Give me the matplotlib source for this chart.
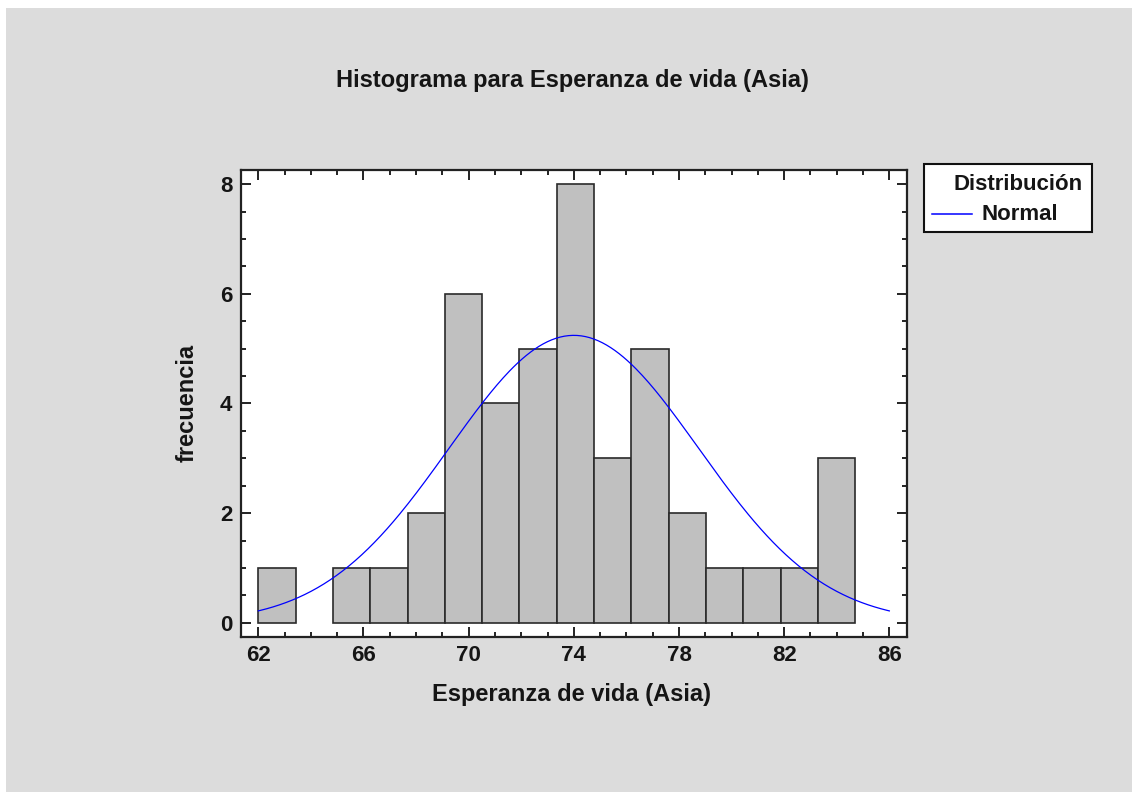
import numpy as np
import matplotlib
matplotlib.use("Agg")
import matplotlib.pyplot as plt
from matplotlib.patches import Rectangle
from matplotlib.lines import Line2D
from matplotlib.ticker import MultipleLocator

# ---- data ----
bin_start = 62.0
bin_end = 84.7
counts = [1, 0, 1, 1, 2, 6, 4, 5, 8, 3, 5, 2, 1, 1, 1, 3]
fit_mean = 74.0
fit_sd = 4.75
curve_range = [62.0, 86.0]
x_ticks = [62, 66, 70, 74, 78, 82, 86]
y_ticks = [0, 2, 4, 6, 8]

title = "Histograma para Esperanza de vida (Asia)"
xlabel = "Esperanza de vida (Asia)"
ylabel = "frecuencia"
legend_title = "Distribución"
legend_label = "Normal"

FONT = ["Liberation Sans Narrow", "Liberation Sans", "DejaVu Sans"]
plt.rcParams["font.family"] = FONT
plt.rcParams["font.weight"] = "bold"
TXT = "#151515"

W, H = 1132, 792
fig = plt.figure(figsize=(W / 100, H / 100), dpi=100)
fig.patch.set_facecolor("white")
fig.add_artist(Rectangle((6 / W, 0), 1 - 6 / W, 1 - 8 / H, transform=fig.transFigure,
                         facecolor="#dcdcdc", edgecolor="none", zorder=-10))

def fx(px):
    return px / W

def fy(py):
    return 1 - py / H

ax = fig.add_axes([fx(240.7), fy(636.7), (906.7 - 240.7) / W, (636.7 - 170) / H])
ax.set_facecolor("white")

nb = len(counts)
edges = np.linspace(bin_start, bin_end, nb + 1)
bw = edges[1] - edges[0]
for left, c in zip(edges[:-1], counts):
    if c > 0:
        ax.bar(left, c, width=bw, align="edge", color="#c0c0c0",
               edgecolor="#2a2a2a", linewidth=1.2, zorder=2)

n = sum(counts)
xs = np.linspace(curve_range[0], curve_range[1], 300)
ys = n * bw / (fit_sd * np.sqrt(2 * np.pi)) * np.exp(-0.5 * ((xs - fit_mean) / fit_sd) ** 2)
line, = ax.plot(xs, ys, color="#0000ff", linewidth=0.9, zorder=3)

ax.set_xlim(61.33, 86.66)
ax.set_ylim(-0.255, 8.26)
ax.set_xticks(x_ticks)
ax.set_yticks(y_ticks)
ax.xaxis.set_minor_locator(MultipleLocator(1))
ax.yaxis.set_minor_locator(MultipleLocator(0.5))
ax.tick_params(which="both", direction="in", top=True, right=True, width=1.4, color="#222222",
               labelcolor=TXT)
ax.tick_params(which="major", length=7.5, labelsize=16, pad=6)
ax.tick_params(which="minor", length=3.5)
for lab in ax.get_xticklabels() + ax.get_yticklabels():
    lab.set_fontweight("bold")
for s in ax.spines.values():
    s.set_linewidth(1.6)
    s.set_color("#222222")

fig.text(fx(572), fy(80), title, ha="center", va="center", fontsize=17, fontweight="bold", color=TXT)
fig.text(fx(572), fy(695), xlabel, ha="center", va="center", fontsize=17, fontweight="bold", color=TXT)
fig.text(fx(187), fy(403), ylabel, ha="center", va="center", rotation=90, fontsize=17,
         fontweight="bold", color=TXT)

# legend box drawn by hand to match the original placement
fig.add_artist(Rectangle((fx(924), fy(232)), (1092 - 924) / W, (232 - 164) / H,
                         transform=fig.transFigure, facecolor="white", edgecolor="#111111",
                         linewidth=1.5, zorder=5))
fig.text(fx(1083), fy(185), legend_title, ha="right", va="center", fontsize=16,
         fontweight="bold", color=TXT, zorder=6)
fig.add_artist(Line2D([fx(932), fx(972)], [fy(214), fy(214)], transform=fig.transFigure,
                      color=line.get_color(), linewidth=1.1, zorder=6))
fig.text(fx(981), fy(214), legend_label, ha="left", va="center", fontsize=16,
         fontweight="bold", color=TXT, zorder=6)

fig.savefig("out.png", dpi=100, facecolor=fig.get_facecolor())
